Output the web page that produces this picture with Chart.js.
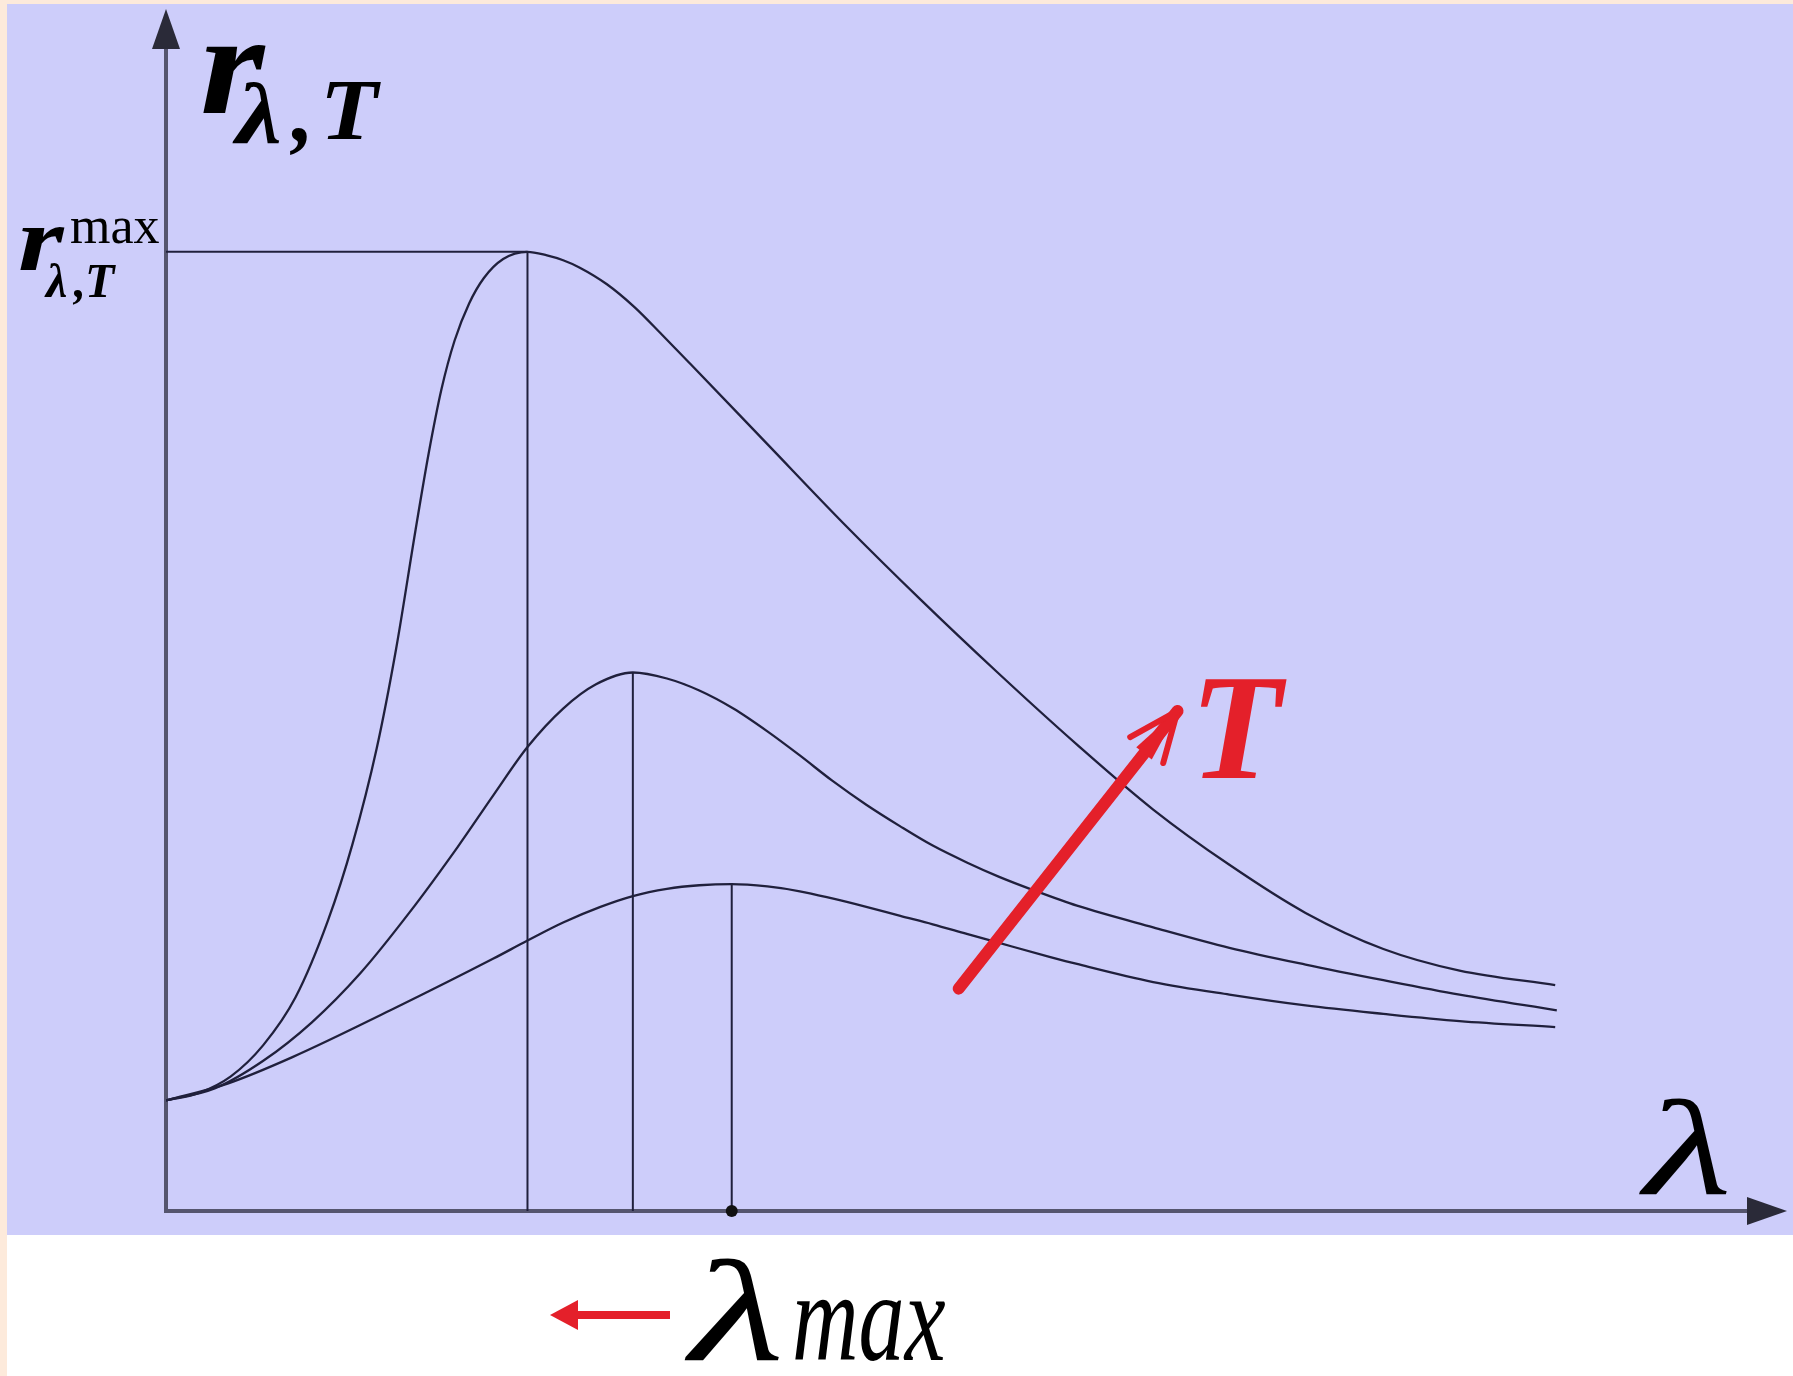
<!DOCTYPE html>
<html>
<head>
<meta charset="utf-8">
<title>Spectral emittance vs wavelength</title>
<script src="https://cdn.jsdelivr.net/npm/chart.js@4/dist/chart.umd.min.js"></script>
<style>
  html, body { margin: 0; padding: 0; background: #fdeadb; }
  canvas { display: block; }
</style>
</head>
<body>
<canvas id="planckChart" width="1793" height="1376"></canvas>
<script>
// wavelength (x) and spectral emittance (y) samples, arbitrary units
const lambdaHot = [0, 0.2, 0.4, 0.6, 0.8, 1.0, 1.15, 1.3, 1.42, 1.54, 1.62, 1.70, 1.78, 1.87, 1.96, 2.08, 2.23, 2.35, 2.45, 2.55, 2.72, 2.89, 3.06, 3.24, 3.71, 4.18, 4.66, 5.13, 5.62, 6.09, 6.56, 7.03, 7.51, 7.98, 8.57];
const rHot      = [0.92, 0.98, 1.12, 1.38, 1.78, 2.42, 3.05, 3.85, 4.68, 5.67, 6.30, 6.84, 7.24, 7.55, 7.76, 7.92, 7.98, 7.95, 7.91, 7.85, 7.71, 7.52, 7.29, 7.04, 6.38, 5.72, 5.08, 4.48, 3.88, 3.34, 2.88, 2.48, 2.18, 2.00, 1.88];

const lambdaMid = [0, 0.3, 0.6, 0.9, 1.2, 1.5, 1.8, 2.02, 2.23, 2.45, 2.65, 2.88, 3.09, 3.29, 3.50, 3.71, 3.91, 4.11, 4.32, 4.53, 4.73, 4.94, 5.14, 5.35, 5.62, 6.09, 6.56, 7.03, 7.51, 7.98, 8.58];
const rMid      = [0.92, 1.02, 1.25, 1.57, 1.98, 2.48, 3.03, 3.46, 3.86, 4.18, 4.38, 4.48, 4.43, 4.33, 4.18, 3.99, 3.79, 3.58, 3.38, 3.20, 3.04, 2.90, 2.78, 2.67, 2.54, 2.36, 2.19, 2.05, 1.92, 1.80, 1.67];

const lambdaCold = [0, 0.38, 0.78, 1.40, 2.02, 2.23, 2.45, 2.68, 2.88, 3.09, 3.29, 3.49, 3.71, 3.91, 4.11, 4.32, 4.53, 4.73, 4.94, 5.14, 5.45, 5.62, 6.09, 6.56, 7.03, 7.51, 7.98, 8.57];
const rCold      = [0.92, 1.06, 1.28, 1.68, 2.10, 2.25, 2.40, 2.53, 2.62, 2.68, 2.71, 2.72, 2.70, 2.66, 2.60, 2.53, 2.455, 2.385, 2.305, 2.23, 2.115, 2.055, 1.905, 1.80, 1.71, 1.64, 1.58, 1.53];

// peak of each curve: lambda_max and r_max
const peakLambda = [2.23, 2.88, 3.49];
const peakR      = [7.98, 4.48, 2.72];

// "T increases" arrow, tail then head
const tArrowLambda = [4.89, 6.24];
const tArrowR      = [1.85, 4.16];

const INK = "#20203c";
const RED = "#e4202a";
const SERIF = '"Liberation Serif", "Times New Roman", serif';

const toPoints = (xs, ys) => xs.map((x, i) => ({ x, y: ys[i] }));

function curve(xs, ys) {
  return {
    data: toPoints(xs, ys),
    showLine: true,
    borderColor: INK,
    borderWidth: 2.3,
    pointRadius: 0,
    cubicInterpolationMode: "monotone",
    order: 2
  };
}

function guide(points) {
  return { data: points, showLine: true, borderColor: INK, borderWidth: 2, pointRadius: 0, order: 3 };
}

const datasets = [
  curve(lambdaHot, rHot),
  curve(lambdaMid, rMid),
  curve(lambdaCold, rCold),
  guide([{ x: 0, y: peakR[0] }, { x: peakLambda[0], y: peakR[0] }]),
  ...peakLambda.map((l, i) => guide([{ x: l, y: 0 }, { x: l, y: peakR[i] }])),
  {
    data: [{ x: peakLambda[2], y: 0 }],
    pointRadius: 6,
    pointBackgroundColor: "#111",
    pointBorderWidth: 0,
    clip: false,
    order: 1
  },
  {
    data: toPoints(tArrowLambda, tArrowR),
    showLine: true,
    borderColor: RED,
    borderWidth: 12,
    borderCapStyle: "round",
    pointRadius: 0,
    order: 0
  }
];

function text(ctx, str, x, y, font, color, sx) {
  ctx.save();
  ctx.font = font;
  ctx.fillStyle = color || "#000";
  ctx.textBaseline = "alphabetic";
  ctx.translate(x, y);
  if (sx) ctx.scale(sx, 1);
  ctx.fillText(str, 0, 0);
  ctx.restore();
}

const framePlugin = {
  id: "frame",
  beforeDraw(chart) {
    const { ctx, width, height } = chart;
    ctx.save();
    ctx.fillStyle = "#fdeadb";
    ctx.fillRect(0, 0, width, height);
    ctx.fillStyle = "#ffffff";
    ctx.fillRect(7, 1235, width - 7, height - 1235);
    ctx.fillStyle = "#cdcdfa";
    ctx.fillRect(7, 4, width - 7, 1231);
    ctx.restore();
  },
  beforeDatasetsDraw(chart) {
    const { ctx, scales: { x, y } } = chart;
    const x0 = x.getPixelForValue(0), y0 = y.getPixelForValue(0);
    const xEnd = x.getPixelForValue(x.max), yEnd = y.getPixelForValue(y.max);
    ctx.save();
    ctx.strokeStyle = "#55556e";
    ctx.lineWidth = 4;
    ctx.beginPath();
    ctx.moveTo(x0, yEnd + 36);
    ctx.lineTo(x0, y0);
    ctx.lineTo(xEnd - 36, y0);
    ctx.stroke();
    ctx.fillStyle = "#2a2a38";
    ctx.beginPath();
    ctx.moveTo(x0, yEnd);
    ctx.lineTo(x0 - 14, yEnd + 40);
    ctx.lineTo(x0 + 14, yEnd + 40);
    ctx.closePath();
    ctx.fill();
    ctx.beginPath();
    ctx.moveTo(xEnd, y0);
    ctx.lineTo(xEnd - 40, y0 - 14);
    ctx.lineTo(xEnd - 40, y0 + 14);
    ctx.closePath();
    ctx.fill();
    ctx.restore();
  },
  afterDatasetsDraw(chart) {
    const { ctx, scales: { x, y } } = chart;

    // head of the T arrow
    const hx = x.getPixelForValue(tArrowLambda[1]), hy = y.getPixelForValue(tArrowR[1]);
    const tx = x.getPixelForValue(tArrowLambda[0]), ty = y.getPixelForValue(tArrowR[0]);
    const ang = Math.atan2(hy - ty, hx - tx);
    ctx.save();
    ctx.strokeStyle = RED;
    ctx.fillStyle = RED;
    ctx.lineWidth = 6;
    ctx.lineCap = "round";
    [-0.4, 0.4].forEach(d => {
      ctx.beginPath();
      ctx.moveTo(hx, hy);
      ctx.lineTo(hx - 54 * Math.cos(ang + d), hy - 54 * Math.sin(ang + d));
      ctx.stroke();
    });
    ctx.beginPath();
    ctx.moveTo(hx + 4 * Math.cos(ang), hy + 4 * Math.sin(ang));
    ctx.lineTo(hx - 55 * Math.cos(ang - 0.18), hy - 55 * Math.sin(ang - 0.18));
    ctx.lineTo(hx - 55 * Math.cos(ang + 0.18), hy - 55 * Math.sin(ang + 0.18));
    ctx.closePath();
    ctx.fill();
    ctx.restore();

    text(ctx, "T", 1190, 778, `bold italic 150px ${SERIF}`, RED);

    // axis titles
    text(ctx, "r", 200, 113, `bold italic 145px ${SERIF}`, "#000", 1.14);
    text(ctx, "λ", 236, 143, `bold italic 86px ${SERIF}`, "#000", 1.2);
    text(ctx, ",", 292, 141, `bold italic 88px ${SERIF}`, "#000");
    text(ctx, "T", 320, 139, `bold italic 86px ${SERIF}`, "#000", 1.1);

    text(ctx, "λ", 1644, 1194, `italic 135px ${SERIF}`, "#000", 1.5);

    // r_max tick label
    text(ctx, "r", 18, 270, `bold italic 90px ${SERIF}`, "#000", 1.3);
    text(ctx, "max", 70, 243, `52px ${SERIF}`, "#000");
    text(ctx, "λ", 46, 297, `bold italic 48px ${SERIF}`, "#000");
    text(ctx, ",", 74, 297, `bold italic 48px ${SERIF}`, "#000");
    text(ctx, "T", 85, 297, `bold italic 48px ${SERIF}`, "#000");

    // lambda_max shift arrow below the axis
    ctx.save();
    ctx.strokeStyle = RED;
    ctx.fillStyle = RED;
    ctx.lineWidth = 8;
    ctx.beginPath();
    ctx.moveTo(670, 1315);
    ctx.lineTo(570, 1315);
    ctx.stroke();
    ctx.beginPath();
    ctx.moveTo(550, 1315);
    ctx.lineTo(578, 1300);
    ctx.lineTo(578, 1330);
    ctx.closePath();
    ctx.fill();
    ctx.restore();

    text(ctx, "λ", 690, 1360, `italic 145px ${SERIF}`, "#000", 1.5);
    text(ctx, "max", 792, 1360, `italic 128px ${SERIF}`, "#000", 0.72);
  }
};

new Chart(document.getElementById("planckChart"), {
  type: "scatter",
  data: { datasets },
  options: {
    responsive: false,
    animation: false,
    devicePixelRatio: 1,
    layout: { padding: { left: 166, right: 6, top: 9, bottom: 165 } },
    plugins: { legend: { display: false }, tooltip: { enabled: false } },
    scales: {
      x: { type: "linear", min: 0, max: 10, display: false },
      y: { type: "linear", min: 0, max: 10, display: false }
    }
  },
  plugins: [framePlugin]
});
</script>
</body>
</html>
